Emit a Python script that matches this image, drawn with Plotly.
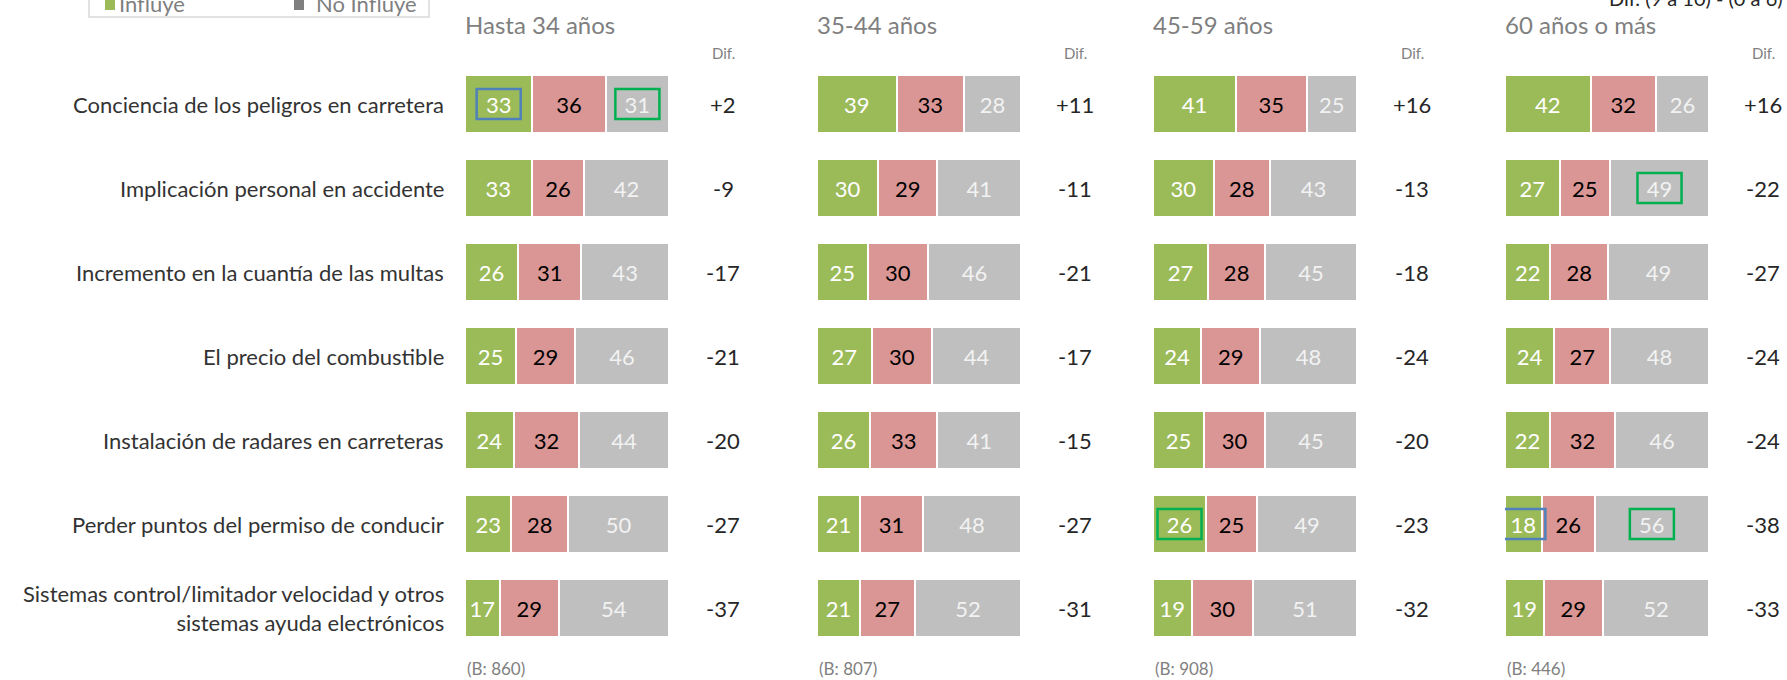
import plotly.graph_objects as go

W, H = 1787, 680

categories = [
    "Conciencia de los peligros en carretera",
    "Implicación personal en accidente",
    "Incremento en la cuantía de las multas",
    "El precio del combustible",
    "Instalación de radares en carreteras",
    "Perder puntos del permiso de conducir",
    "Sistemas control/limitador velocidad y otros<br>sistemas ayuda electrónicos",
]
age_groups = ["Hasta 34 años", "35-44 años", "45-59 años", "60 años o más"]
bases = [860, 807, 908, 446]

# Influye (9-10), Neutral (7-8), No influye (0-6)
green_vals = [
    [33, 33, 26, 25, 24, 23, 17],
    [39, 30, 25, 27, 26, 21, 21],
    [41, 30, 27, 24, 25, 26, 19],
    [42, 27, 22, 24, 22, 18, 19],
]
red_vals = [
    [36, 26, 31, 29, 32, 28, 29],
    [33, 29, 30, 30, 33, 31, 27],
    [35, 28, 28, 29, 30, 25, 30],
    [32, 25, 28, 27, 32, 26, 29],
]
gray_vals = [
    [31, 42, 43, 46, 44, 50, 54],
    [28, 41, 46, 44, 41, 48, 52],
    [25, 43, 45, 48, 45, 49, 51],
    [26, 49, 49, 48, 46, 56, 52],
]
dif_vals = [
    [2, -9, -17, -21, -20, -27, -37],
    [11, -11, -21, -17, -15, -27, -31],
    [16, -13, -18, -24, -20, -23, -32],
    [16, -22, -27, -24, -24, -38, -33],
]
# highlighted cells: (panel, row, segment 0/1/2, colour)
highlights = [
    (0, 0, 0, "#4F81BD"),
    (0, 0, 2, "#00B050"),
    (3, 1, 2, "#00B050"),
    (2, 5, 0, "#00B050"),
    (3, 5, 0, "#4F81BD"),
    (3, 5, 2, "#00B050"),
]

FONT = "Lato"
GREEN, RED, GRAY = "#9BBB59", "#D99694", "#BFBFBF"


def px(x):
    return x / W


def py(y):
    return 1 - y / H


panel_left = [465, 817, 1153, 1505]
panel_w = 204
dif_x = [723, 1075, 1412, 1763]

fig = go.Figure()
annotations = []
shapes = []

for p in range(4):
    xa = "x" if p == 0 else f"x{p + 1}"
    totals = [g + r + n for g, r, n in zip(green_vals[p], red_vals[p], gray_vals[p])]
    series = [
        (green_vals[p], GREEN, "white"),
        (red_vals[p], RED, "black"),
        (gray_vals[p], GRAY, "#F2F2F2"),
    ]
    for vals, col, tcol in series:
        # 100% stacked bars, labelled with the raw values
        share = [v / t * 100 for v, t in zip(vals, totals)]
        fig.add_trace(go.Bar(
            x=share, y=categories, orientation="h",
            xaxis=xa, yaxis="y",
            marker=dict(color=col, line=dict(color="white", width=2)),
            text=vals, texttemplate="%{text}",
            textposition="inside", insidetextanchor="middle",
            textfont=dict(family=FONT, size=22, color=tcol),
            constraintext="none", cliponaxis=False,
            showlegend=False, hoverinfo="skip",
        ))

    annotations.append(dict(
        text=age_groups[p], xref="paper", yref="paper",
        x=px(panel_left[p] - 2), y=py(25), xanchor="left", yanchor="middle",
        showarrow=False, font=dict(family=FONT, size=24, color="#7F7F7F"),
    ))
    annotations.append(dict(
        text="Dif.", xref="paper", yref="paper",
        x=px(dif_x[p]), y=py(53), xanchor="center", yanchor="middle",
        showarrow=False, font=dict(family=FONT, size=15, color="#7F7F7F"),
    ))
    annotations.append(dict(
        text=f"(B: {bases[p]})", xref="paper", yref="paper",
        x=px(panel_left[p]), y=py(668), xanchor="left", yanchor="middle",
        showarrow=False, font=dict(family=FONT, size=17, color="#7F7F7F"),
    ))
    for i, d in enumerate(dif_vals[p]):
        annotations.append(dict(
            text=f"{d:+d}", xref="paper", yref="y",
            x=px(dif_x[p]), y=i, xanchor="center", yanchor="middle",
            showarrow=False, font=dict(family=FONT, size=22, color="#262626"),
        ))

    # highlight boxes around some values
    for hp, row, seg, col in highlights:
        if hp != p:
            continue
        segs = [green_vals[p][row], red_vals[p][row], gray_vals[p][row]]
        center = (sum(segs[:seg]) + segs[seg] / 2) / totals[row] * 100
        shapes.append(dict(
            type="rect", xref=xa, yref="y",
            x0=center - 10.8, x1=center + 10.8, y0=row - 0.18, y1=row + 0.18,
            line=dict(color=col, width=2.5), fillcolor="rgba(0,0,0,0)",
        ))

# category labels
for i, c in enumerate(categories):
    annotations.append(dict(
        text=c, xref="paper", yref="y", x=px(446), y=i,
        xanchor="right", yanchor="middle", align="right",
        showarrow=False, font=dict(family=FONT, size=22, color="#333333"),
    ))

# legend box (cut off at the top of the page)
shapes.append(dict(
    type="rect", xref="paper", yref="paper",
    x0=px(89), x1=px(429), y0=py(17), y1=py(-40),
    line=dict(color="#D9D9D9", width=1.5), fillcolor="white", layer="below",
))
shapes.append(dict(type="rect", xref="paper", yref="paper",
                   x0=px(105), x1=px(115), y0=py(10), y1=py(0),
                   line=dict(width=0), fillcolor=GREEN))
shapes.append(dict(type="rect", xref="paper", yref="paper",
                   x0=px(294), x1=px(304), y0=py(10), y1=py(0),
                   line=dict(width=0), fillcolor="#7F7F7F"))
annotations.append(dict(
    text="Influye", xref="paper", yref="paper", x=px(117), y=py(4),
    xanchor="left", yanchor="middle", showarrow=False,
    font=dict(family=FONT, size=22, color="#7F7F7F"),
))
annotations.append(dict(
    text="No Influye", xref="paper", yref="paper", x=px(314), y=py(4),
    xanchor="left", yanchor="middle", showarrow=False,
    font=dict(family=FONT, size=22, color="#7F7F7F"),
))
annotations.append(dict(
    text="Dif. (9 a 10) - (0 a 6)", xref="paper", yref="paper",
    x=px(1785), y=py(-2), xanchor="right", yanchor="middle", showarrow=False,
    font=dict(family=FONT, size=20, color="#262626"),
))

layout = dict(
    width=W, height=H,
    margin=dict(l=0, r=0, t=0, b=0),
    paper_bgcolor="white", plot_bgcolor="white",
    barmode="stack", bargap=0.32,
    showlegend=False,
    annotations=annotations, shapes=shapes,
    yaxis=dict(
        domain=[py(650), py(62)], autorange="reversed",
        showticklabels=False, showgrid=False, zeroline=False,
        showline=False, ticks="",
    ),
)
for p in range(4):
    key = "xaxis" if p == 0 else f"xaxis{p + 1}"
    layout[key] = dict(
        domain=[px(panel_left[p]), px(panel_left[p] + panel_w)],
        range=[0, 100], anchor="y",
        showticklabels=False, showgrid=False, zeroline=False,
        showline=False, ticks="", fixedrange=True,
    )
fig.update_layout(**layout)

# drop the default page margin so the figure fills the window exactly
fig.write_html(
    "out.html",
    config={"displayModeBar": False},
    post_script="document.body.style.margin='0';document.body.style.overflow='hidden';",
)
